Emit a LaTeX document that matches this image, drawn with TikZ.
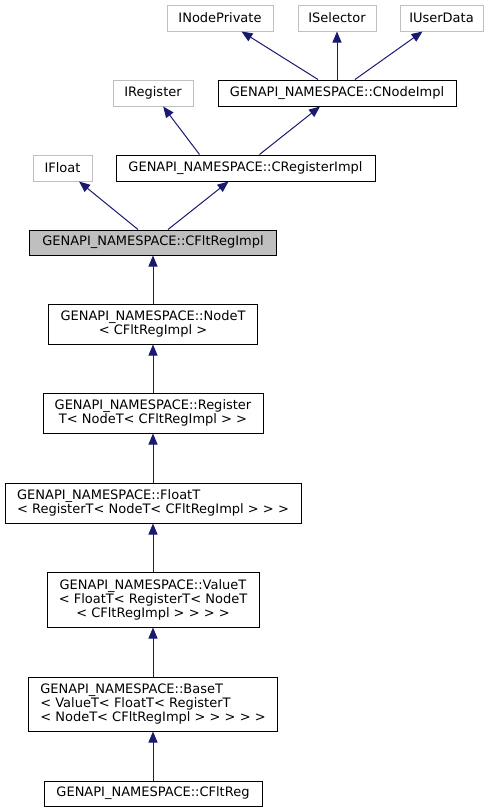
\documentclass[tikz,border=0pt]{standalone}
\usepackage{fontspec}
\setmainfont{DejaVu Sans}
\usetikzlibrary{arrows.meta}
\definecolor{edgeblue}{HTML}{191970}
\definecolor{boxgray}{HTML}{BFBFBF}

\begin{document}
\begin{tikzpicture}[x=1pt, y=-1pt,
	cls/.style={draw=black, line width=1pt, inner sep=0pt, minimum height=26pt,
		font=\fontsize{13}{14}\selectfont, text=black},
	ext/.style={cls, draw=boxgray},
	self/.style={cls, fill=boxgray},
	inh/.style={draw=edgeblue, line width=1pt, {Triangle[length=11pt,width=9pt]}-}]
	%%%%% START %%%%%
	\useasboundingbox (0, 0) rectangle (493, 812);
	
	\node[ext, minimum width=106pt] (inodepriv) at (220, 18) {INodePrivate};
	\node[ext, minimum width=78pt] (iselector) at (337, 18) {ISelector};
	\node[ext, minimum width=83pt] (iuserdata) at (441.5, 18) {IUserData};
	
	\node[ext, minimum width=80pt] (iregister) at (153, 93) {IRegister};
	\node[cls, minimum width=238pt] (cnodeimpl) at (337, 93) {GENAPI\_NAMESPACE::CNodeImpl};
	
	\node[ext, minimum width=59pt] (ifloat) at (62.5, 168) {IFloat};
	\node[cls, minimum width=259pt] (cregimpl) at (245.5, 168) {GENAPI\_NAMESPACE::CRegisterImpl};
	
	\node[self, minimum width=247pt, minimum height=25pt] (cfltregimpl) at (153, 242.5) {GENAPI\_NAMESPACE::CFltRegImpl};
	
	\node[cls, minimum width=209pt, minimum height=40pt, align=center] (nodet) at (153, 324)
		{GENAPI\_NAMESPACE::NodeT\\< CFltRegImpl >};
	\node[cls, minimum width=220pt, minimum height=40pt, align=center] (registert) at (153, 413)
		{GENAPI\_NAMESPACE::Register\\T< NodeT< CFltRegImpl > >};
	\node[cls, minimum width=296pt, minimum height=40pt, align=left] (floatt) at (153, 503)
		{GENAPI\_NAMESPACE::FloatT\\< RegisterT< NodeT< CFltRegImpl > > >};
	\node[cls, minimum width=212pt, minimum height=55pt, align=center] (valuet) at (153, 599.5)
		{GENAPI\_NAMESPACE::ValueT\\< FloatT< RegisterT< NodeT\\< CFltRegImpl > > > >};
	\node[cls, minimum width=249pt, minimum height=54pt, align=left] (baset) at (153, 704)
		{GENAPI\_NAMESPACE::BaseT\\< ValueT< FloatT< RegisterT\\< NodeT< CFltRegImpl > > > > >};
	\node[cls, minimum width=218pt, minimum height=25pt] (cfltreg) at (153, 793.5) {GENAPI\_NAMESPACE::CFltReg};
	
	% inheritance arrows
	\draw[inh] (inodepriv) -- ([xshift=-19pt]cnodeimpl.north);
	\draw[inh] (iselector) -- (cnodeimpl.north);
	\draw[inh] (iuserdata) -- ([xshift=18pt]cnodeimpl.north);
	
	\draw[inh] (iregister) -- ([xshift=-46pt]cregimpl.north);
	\draw[inh] (cnodeimpl) -- ([xshift=14pt]cregimpl.north);
	
	\draw[inh] (ifloat) -- ([xshift=-15pt]cfltregimpl.north);
	\draw[inh] (cregimpl) -- ([xshift=15pt]cfltregimpl.north);
	
	\draw[inh] (cfltregimpl.south) -- (nodet.north);
	\draw[inh] (nodet.south) -- (registert.north);
	\draw[inh] (registert.south) -- (floatt.north);
	\draw[inh] (floatt.south) -- (valuet.north);
	\draw[inh] (valuet.south) -- (baset.north);
	\draw[inh] (baset.south) -- (cfltreg.north);
	%%%%% END %%%%%
\end{tikzpicture}
\end{document}
